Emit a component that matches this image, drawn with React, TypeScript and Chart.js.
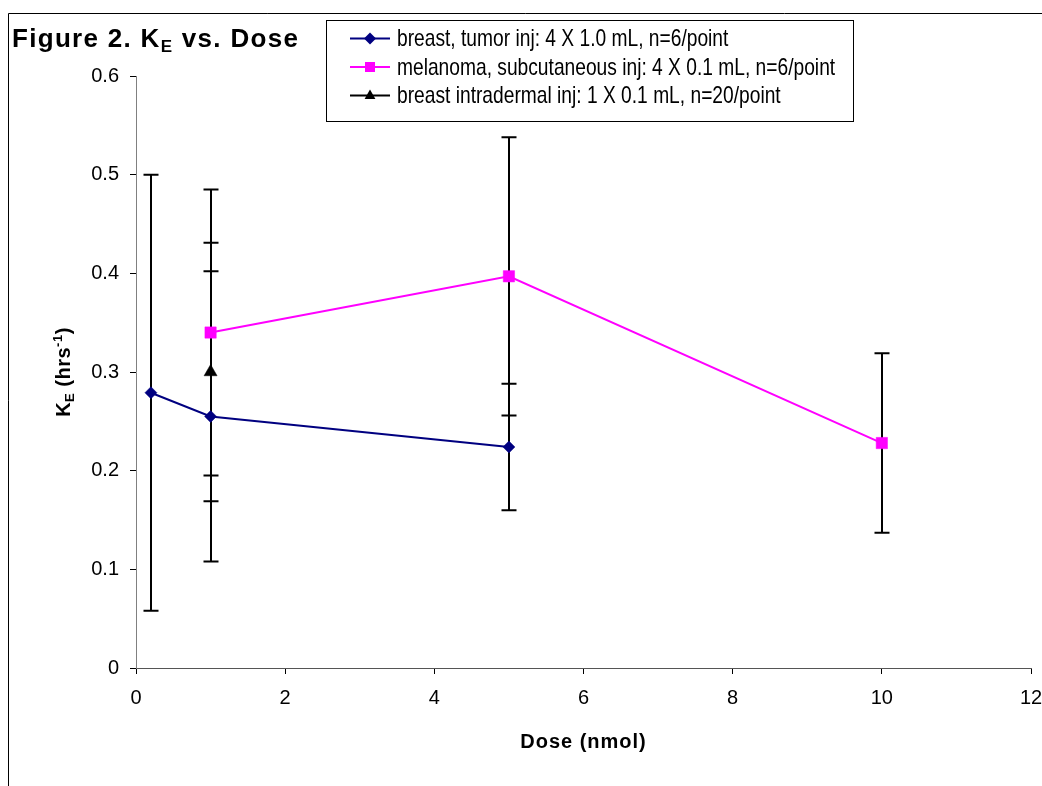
import React, { useEffect, useRef } from "react";
import { Chart, registerables } from "chart.js";

Chart.register(...registerables);

// ---- data ----
const seriesLabels = [
  "breast, tumor inj: 4 X 1.0 mL, n=6/point",
  "melanoma, subcutaneous inj: 4 X 0.1 mL, n=6/point",
  "breast intradermal inj: 1 X 0.1 mL, n=20/point",
];
const breastTumorDose = [0.2, 1, 5];
const breastTumorKE = [0.279, 0.255, 0.224];
const breastTumorErr = [0.221, 0.147, 0.064];

const melanomaDose = [1, 5, 10];
const melanomaKE = [0.34, 0.397, 0.228];
const melanomaErr = [0.145, 0.141, 0.091];

const intradermalDose = [1];
const intradermalKE = [0.3];
const intradermalErr = [0.131];

const xMin = 0;
const xMax = 12;
const xStep = 2;
const yMin = 0;
const yMax = 0.6;
const yStep = 0.1;

const FONT = '"Liberation Sans", Arial, Helvetica, sans-serif';

type Seg = { t: string; sub?: boolean; sup?: boolean };

function drawRich(
  ctx: CanvasRenderingContext2D,
  segs: Seg[],
  x: number,
  y: number,
  size: number,
  bold: boolean,
  align: "left" | "center",
  spacing: number
) {
  const w = bold ? "bold " : "";
  const fontFor = (s: Seg) =>
    `${w}${s.sub || s.sup ? Math.round(size * 0.65) : size}px ${FONT}`;
  (ctx as any).letterSpacing = `${spacing}px`;
  let total = 0;
  for (const s of segs) {
    ctx.font = fontFor(s);
    total += ctx.measureText(s.t).width;
  }
  let cx = align === "center" ? x - total / 2 : x;
  ctx.textBaseline = "alphabetic";
  ctx.textAlign = "left";
  for (const s of segs) {
    ctx.font = fontFor(s);
    const dy = s.sub ? size * 0.2 : s.sup ? -size * 0.42 : 0;
    ctx.fillText(s.t, cx, y + dy);
    cx += ctx.measureText(s.t).width;
  }
  (ctx as any).letterSpacing = "0px";
}

function drawMarker(ctx: CanvasRenderingContext2D, style: string, x: number, y: number, r: number, color: string) {
  ctx.fillStyle = color;
  ctx.beginPath();
  if (style === "rectRot") {
    ctx.moveTo(x - r, y);
    ctx.lineTo(x, y - r);
    ctx.lineTo(x + r, y);
    ctx.lineTo(x, y + r);
  } else if (style === "rect") {
    ctx.rect(x - r, y - r, 2 * r, 2 * r);
  } else {
    ctx.moveTo(x, y - r);
    ctx.lineTo(x + r * 0.9, y + r * 0.6);
    ctx.lineTo(x - r * 0.9, y + r * 0.6);
  }
  ctx.closePath();
  ctx.fill();
}

const errorBarPlugin = {
  id: "errorBars",
  beforeDatasetsDraw(chart: any) {
    const ctx: CanvasRenderingContext2D = chart.ctx;
    const xs = chart.scales.x;
    const ys = chart.scales.y;
    ctx.save();
    ctx.strokeStyle = "#000000";
    ctx.lineWidth = 2;
    chart.data.datasets.forEach((ds: any) => {
      ds.data.forEach((p: any, j: number) => {
        const e = ds.errors[j];
        const px = Math.round(xs.getPixelForValue(p.x));
        const top = ys.getPixelForValue(p.y + e);
        const bot = ys.getPixelForValue(p.y - e);
        ctx.beginPath();
        ctx.moveTo(px, top);
        ctx.lineTo(px, bot);
        ctx.moveTo(px - 7.5, top);
        ctx.lineTo(px + 7.5, top);
        ctx.moveTo(px - 7.5, bot);
        ctx.lineTo(px + 7.5, bot);
        ctx.stroke();
      });
    });
    ctx.restore();
  },
};

const decorPlugin = {
  id: "decor",
  beforeDraw(chart: any) {
    const ctx: CanvasRenderingContext2D = chart.ctx;
    ctx.save();
    ctx.fillStyle = "#ffffff";
    ctx.fillRect(0, 0, chart.width, chart.height);
    // outer frame
    ctx.strokeStyle = "#000000";
    ctx.lineWidth = 1;
    ctx.beginPath();
    ctx.moveTo(8.5, chart.height + 2);
    ctx.lineTo(8.5, 13.5);
    ctx.lineTo(chart.width + 2, 13.5);
    ctx.stroke();
    ctx.restore();
  },
  afterDraw(chart: any) {
    const ctx: CanvasRenderingContext2D = chart.ctx;
    const area = chart.chartArea;
    ctx.save();
    ctx.fillStyle = "#000000";
    // main title
    drawRich(ctx, [{ t: "Figure 2. K" }, { t: "E", sub: true }, { t: " vs. Dose" }], 12, 47, 26, true, "left", 1.3);
    // x axis title
    drawRich(ctx, [{ t: "Dose (nmol)" }], (area.left + area.right) / 2, 748, 20, true, "center", 1);
    // y axis title
    ctx.save();
    ctx.translate(70, (area.top + area.bottom) / 2);
    ctx.rotate(-Math.PI / 2);
    drawRich(
      ctx,
      [{ t: "K" }, { t: "E", sub: true }, { t: " (hrs" }, { t: "-1", sup: true }, { t: ")" }],
      0,
      0,
      20,
      true,
      "center",
      0.5
    );
    ctx.restore();

    // legend
    const lx = 326.5, ly = 20.5, lw = 527, lh = 101;
    ctx.fillStyle = "#ffffff";
    ctx.fillRect(lx, ly, lw, lh);
    ctx.strokeStyle = "#000000";
    ctx.lineWidth = 1;
    ctx.strokeRect(lx, ly, lw, lh);
    const rowY = [38.5, 67, 95.5];
    chart.data.datasets.forEach((ds: any, i: number) => {
      const y = rowY[i];
      ctx.strokeStyle = ds.legendLine;
      ctx.lineWidth = 2;
      ctx.beginPath();
      ctx.moveTo(350, y);
      ctx.lineTo(390, y);
      ctx.stroke();
      drawMarker(ctx, ds.pointStyle, 370, y, ds.pointStyle === "rect" ? 5 : 6, ds.pointBackgroundColor);
      ctx.save();
      ctx.translate(397, y);
      ctx.scale(0.8, 1);
      ctx.fillStyle = "#000000";
      ctx.font = `24px ${FONT}`;
      ctx.textAlign = "left";
      ctx.textBaseline = "middle";
      ctx.fillText(ds.label, 0, 1);
      ctx.restore();
    });
    ctx.restore();
  },
};

const toPoints = (xs: number[], ys: number[]) => xs.map((x, i) => ({ x, y: ys[i] }));

export default function App() {
  const ref = useRef<HTMLCanvasElement | null>(null);
  useEffect(() => {
    if (!ref.current) return;
    const chart = new Chart(ref.current, {
      type: "scatter",
      data: {
        datasets: [
          {
            label: seriesLabels[0],
            data: toPoints(breastTumorDose, breastTumorKE),
            errors: breastTumorErr,
            showLine: true,
            borderColor: "#000080",
            legendLine: "#000080",
            borderWidth: 2,
            pointStyle: "rectRot",
            pointRadius: 6,
            pointBackgroundColor: "#000080",
            pointBorderColor: "#000080",
            pointBorderWidth: 0.5,
          } as any,
          {
            label: seriesLabels[1],
            data: toPoints(melanomaDose, melanomaKE),
            errors: melanomaErr,
            showLine: true,
            borderColor: "#FF00FF",
            legendLine: "#FF00FF",
            borderWidth: 2,
            pointStyle: "rect",
            pointRadius: 8,
            pointBackgroundColor: "#FF00FF",
            pointBorderColor: "#FF00FF",
            pointBorderWidth: 0.5,
          } as any,
          {
            label: seriesLabels[2],
            data: toPoints(intradermalDose, intradermalKE),
            errors: intradermalErr,
            showLine: false,
            borderColor: "#000000",
            legendLine: "#000000",
            borderWidth: 2,
            pointStyle: "triangle",
            pointRadius: 7.5,
            pointBackgroundColor: "#000000",
            pointBorderColor: "#000000",
            pointBorderWidth: 0.5,
          } as any,
        ],
      },
      options: {
        animation: false,
        responsive: false,
        devicePixelRatio: 1,
        layout: { padding: { top: 76, right: 11, left: 0, bottom: 0 } },
        plugins: {
          legend: { display: false },
          title: { display: false },
          tooltip: { enabled: false },
        },
        scales: {
          x: {
            type: "linear",
            min: xMin,
            max: xMax,
            ticks: {
              stepSize: xStep,
              color: "#000000",
              font: { family: FONT, size: 20 },
              padding: 12,
              maxRotation: 0,
            },
            grid: {
              drawOnChartArea: false,
              drawTicks: true,
              tickLength: 6,
              color: "#000000",
            },
            border: { color: "#555555", width: 1 },
            afterFit(scale: any) {
              scale.height = 118;
              scale.paddingLeft = 0;
              scale.paddingRight = 0;
            },
          },
          y: {
            type: "linear",
            min: yMin,
            max: yMax,
            ticks: {
              stepSize: yStep,
              color: "#000000",
              font: { family: FONT, size: 20 },
              padding: 11,
            },
            grid: {
              drawOnChartArea: false,
              drawTicks: true,
              tickLength: 6,
              color: "#000000",
            },
            border: { color: "#808080", width: 1 },
            afterFit(scale: any) {
              scale.width = 136;
              scale.paddingTop = 0;
              scale.paddingBottom = 0;
            },
          },
        },
      } as any,
      plugins: [decorPlugin, errorBarPlugin],
    });
    return () => chart.destroy();
  }, []);
  return (
    <div style={{ position: "fixed", left: 0, top: 0, width: 1042, height: 786, background: "#fff" }}>
      <canvas ref={ref} width={1042} height={786} style={{ display: "block" }} />
    </div>
  );
}
